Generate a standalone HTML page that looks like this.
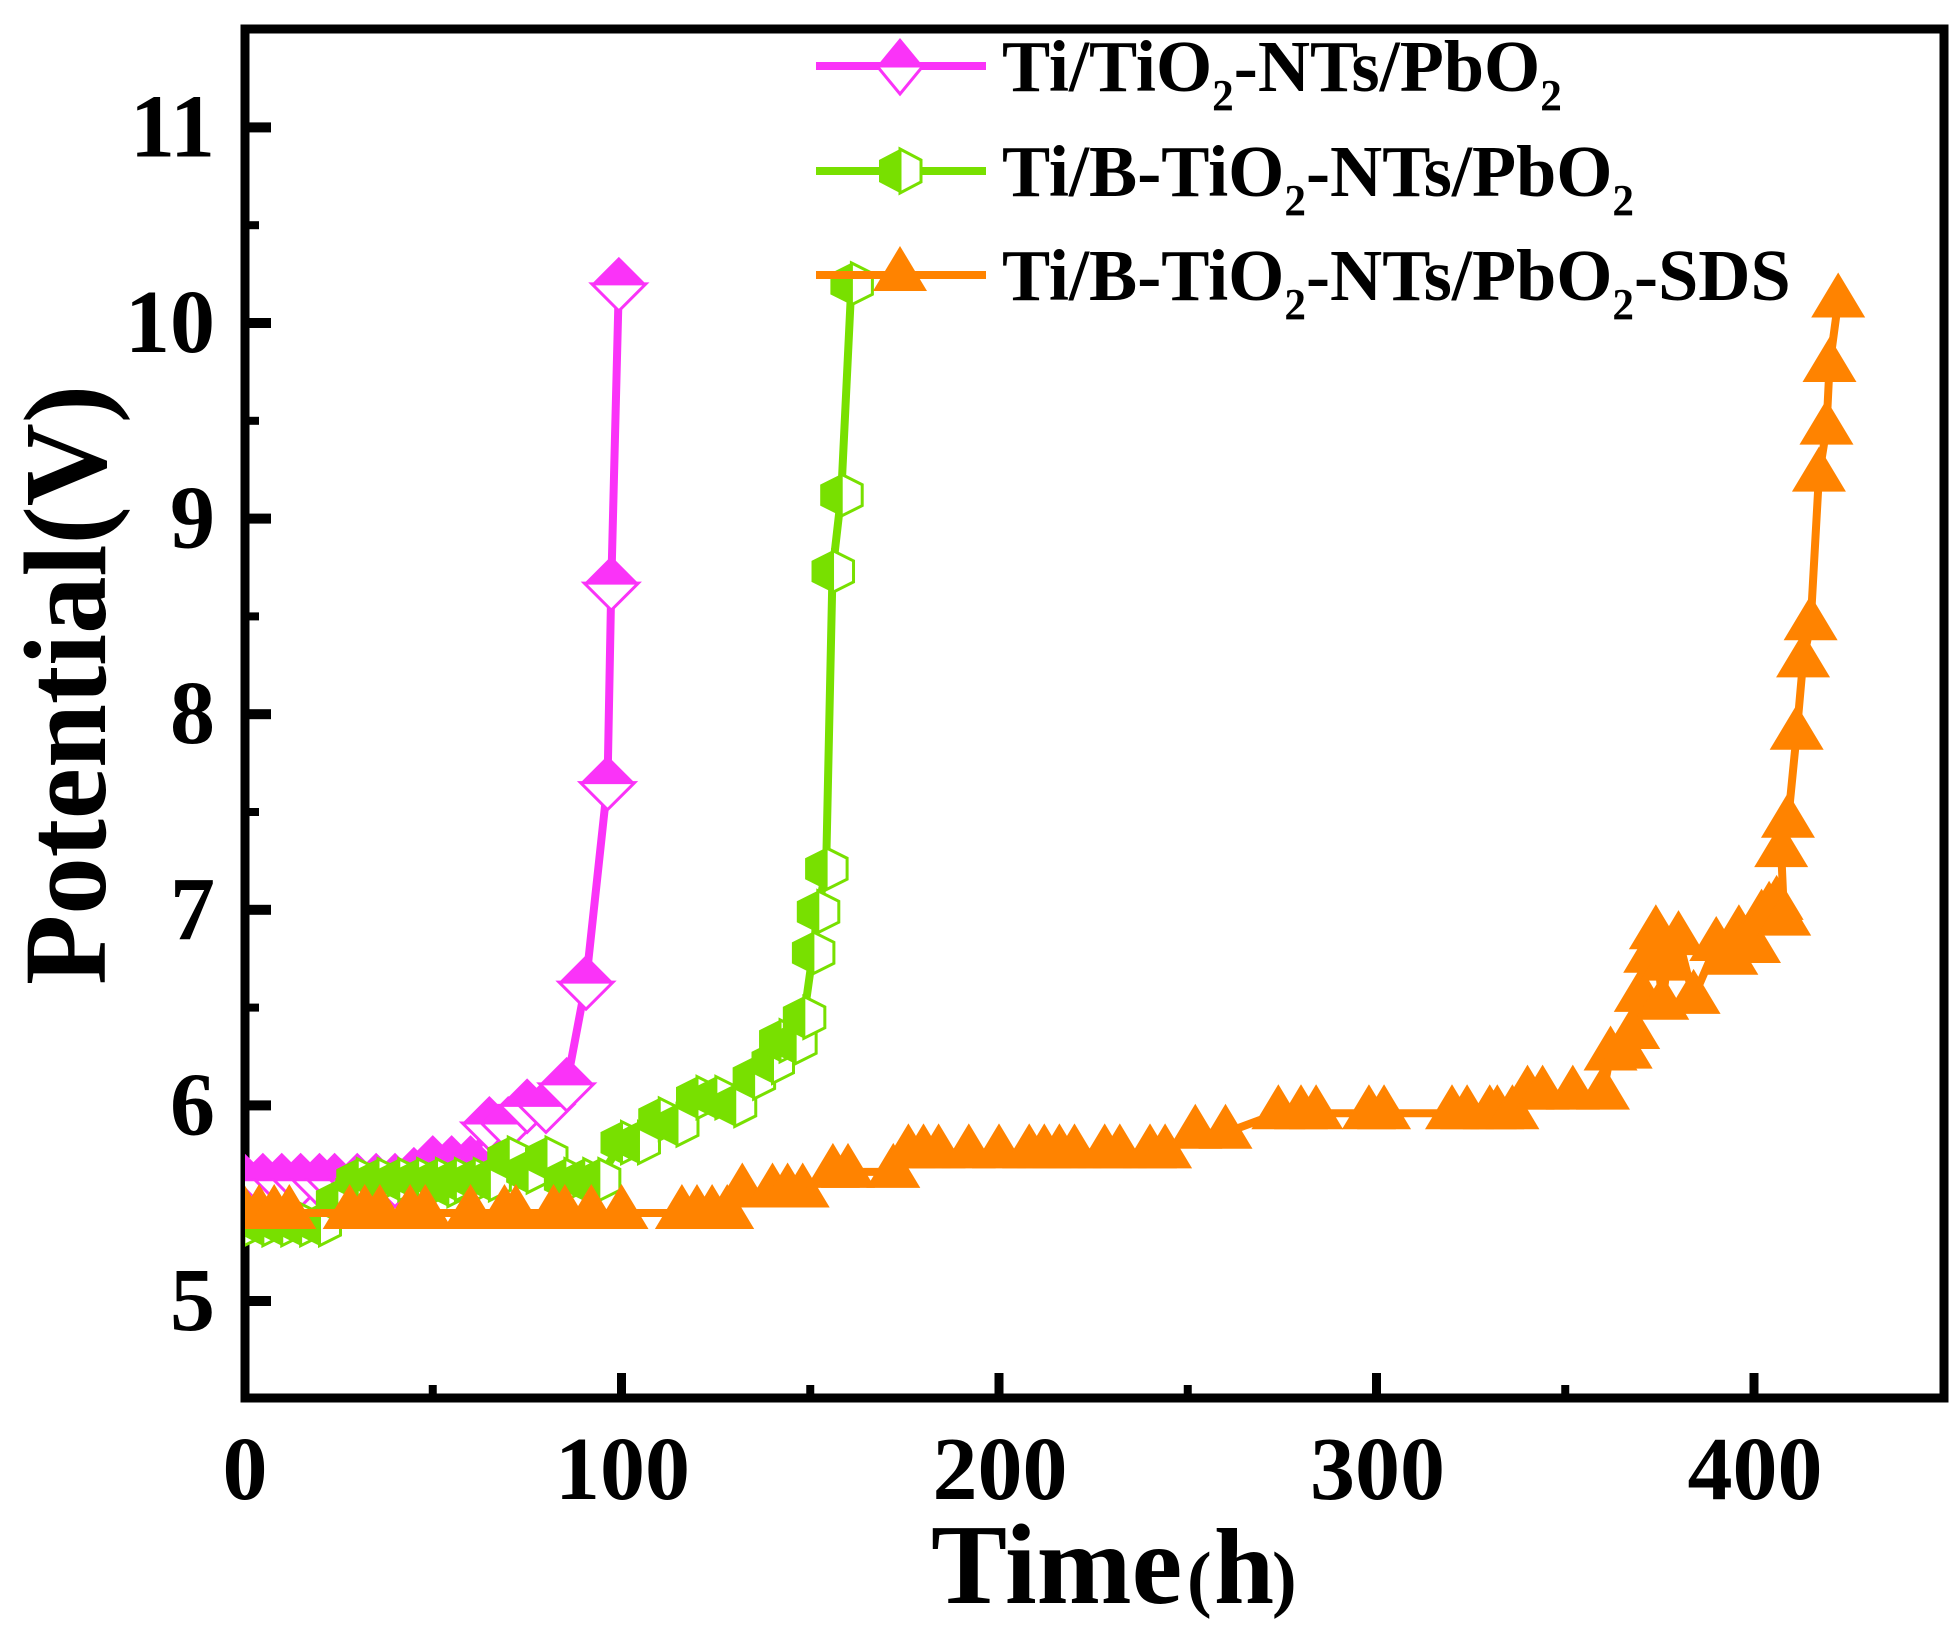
<!DOCTYPE html>
<html lang="en">
<head>
<meta charset="utf-8">
<title>Potential vs Time</title>
<style>
html,body{margin:0;padding:0;background:#fff;}
svg{display:block;}
text{font-family:"Liberation Serif",serif;font-weight:bold;fill:#000;}
</style>
</head>
<body>
<svg id="chart" xmlns="http://www.w3.org/2000/svg" width="1960" height="1641" viewBox="0 0 1960 1641">
  <defs><clipPath id="plot-clip"><rect x="245" y="0" width="1715" height="1641"/></clipPath></defs>
  <rect x="245" y="29" width="1699" height="1369" fill="#fff" stroke="#000" stroke-width="9"/>
  <g id="ticks"></g>
  <g id="tick-labels" font-size="90"></g>
  <g id="series" clip-path="url(#plot-clip)"></g>
  <g id="legend-marks"></g>
  <text transform="translate(1002,91) scale(0.983,1)" font-size="73.5">Ti/TiO<tspan font-size="44" dy="19">2</tspan><tspan dy="-19">-NTs/PbO</tspan><tspan font-size="44" dy="19">2</tspan></text>
  <text transform="translate(1002,196) scale(0.983,1)" font-size="73.5">Ti/B-TiO<tspan font-size="44" dy="19">2</tspan><tspan dy="-19">-NTs/PbO</tspan><tspan font-size="44" dy="19">2</tspan></text>
  <text transform="translate(1002,300) scale(0.983,1)" font-size="73.5">Ti/B-TiO<tspan font-size="44" dy="19">2</tspan><tspan dy="-19">-NTs/PbO</tspan><tspan font-size="44" dy="19">2</tspan><tspan dy="-19">-SDS</tspan></text>
  <text transform="translate(105,985) rotate(-90)" font-size="118" textLength="600" lengthAdjust="spacingAndGlyphs">Potential(V)</text>
  <text y="1603" font-size="114"><tspan x="931">Time</tspan><tspan x="1187" font-size="74">(</tspan><tspan x="1214" font-size="108">h</tspan><tspan x="1272" font-size="74">)</tspan></text>
</svg>
<script>
const xMajorTicks = [0, 100, 200, 300, 400];
const xMinorTicks = [50, 150, 250, 350];
const yMajorTicks = [5, 6, 7, 8, 9, 10, 11];
const yMinorTicks = [5.5, 6.5, 7.5, 8.5, 9.5, 10.5];

const magentaTimes = [0, 5, 10, 15, 20, 24, 30, 35, 40, 45, 50, 55, 60, 65, 70, 75, 80, 85.5, 90.6, 96.3, 97.3, 99.3];
const magentaPotentials = [5.62, 5.62, 5.62, 5.62, 5.62, 5.62, 5.62, 5.62, 5.62, 5.65, 5.71, 5.71, 5.71, 5.91, 5.91, 6.0, 6.0, 6.11, 6.63, 7.65, 8.67, 10.2];

const greenTimes = [0, 5, 10, 15, 20, 24.6, 30, 35.5, 41, 46, 51, 54, 56, 61, 65, 70, 75, 80, 85, 90, 94, 100, 104.5, 110, 114.7, 120, 125, 130, 135, 140, 142, 146, 148.3, 150.7, 152, 154.2, 155.9, 158.2, 160.9];
const greenPotentials = [5.39, 5.39, 5.39, 5.39, 5.39, 5.51, 5.62, 5.62, 5.62, 5.62, 5.62, 5.59, 5.62, 5.62, 5.62, 5.73, 5.66, 5.73, 5.62, 5.62, 5.62, 5.81, 5.81, 5.93, 5.9, 6.04, 6.04, 6.0, 6.14, 6.22, 6.33, 6.32, 6.45, 6.78, 6.99, 7.21, 8.73, 9.12, 10.2];

const orangeTimes = [0, 4, 8, 12, 28, 32, 36, 44, 48, 60, 69, 72, 82, 85, 92, 100, 116, 120, 124, 128, 132, 140, 144, 148, 156, 160, 172, 176, 180, 184, 192, 200, 208, 212, 216, 220, 228, 232, 240, 244, 252, 260, 274, 280, 284, 298, 302, 320, 324, 330, 332, 336, 340, 344, 352, 360, 362, 366, 368, 370, 372.5, 374, 375.7, 377, 380, 384, 390, 394, 396, 400, 402, 404, 406, 408, 407.2, 409, 411.3, 413, 415, 417.2, 419.2, 420, 422.3];
const orangePotentials = [5.45, 5.45, 5.45, 5.45, 5.45, 5.45, 5.45, 5.45, 5.45, 5.45, 5.45, 5.45, 5.45, 5.45, 5.45, 5.45, 5.45, 5.45, 5.45, 5.45, 5.56, 5.56, 5.56, 5.56, 5.66, 5.66, 5.66, 5.76, 5.76, 5.76, 5.76, 5.76, 5.76, 5.76, 5.76, 5.76, 5.76, 5.76, 5.76, 5.76, 5.86, 5.86, 5.96, 5.96, 5.96, 5.96, 5.96, 5.96, 5.96, 5.96, 5.96, 5.96, 6.06, 6.06, 6.06, 6.06, 6.26, 6.27, 6.37, 6.56, 6.76, 6.88, 6.52, 6.72, 6.85, 6.55, 6.82, 6.75, 6.88, 6.81, 6.96, 7.0, 7.03, 6.95, 7.3, 7.45, 7.9, 8.27, 8.46, 9.22, 9.46, 9.78, 10.11];

const MAGENTA = '#FA33F8';
const GREEN = '#78E000';
const ORANGE = '#FF8300';
const NS = 'http://www.w3.org/2000/svg';

function xScale(t) { return 244 + t * 3.775; }
function yScale(v) { return 1301 - (v - 5) * 195.6; }

function shape(tag, attrs, parent) {
  const el = document.createElementNS(NS, tag);
  for (const k in attrs) el.setAttribute(k, attrs[k]);
  parent.appendChild(el);
  return el;
}

const tickGroup = document.getElementById('ticks');
const labelGroup = document.getElementById('tick-labels');

xMajorTicks.forEach(function (t) {
  if (t > 0) {
    const tick = shape('rect', { x: xScale(t) - 4.5, y: 1373, width: 9, height: 22, fill: '#000' }, tickGroup);
    
    
  }
  const label = shape('text', { x: xScale(t) + 1, y: 1499, 'text-anchor': 'middle' }, labelGroup);
  label.textContent = String(t);
  
  
});
xMinorTicks.forEach(function (t) {
  const tick = shape('rect', { x: xScale(t) - 4, y: 1385, width: 8, height: 10, fill: '#000' }, tickGroup);
  
  
});
yMajorTicks.forEach(function (v) {
  const tick = shape('rect', { x: 248, y: yScale(v) - 5, width: 23, height: 10, fill: '#000' }, tickGroup);
  
  
  const label = shape('text', { x: 215, y: yScale(v) + 29, 'text-anchor': 'end' }, labelGroup);
  label.textContent = String(v);
  
  
});
yMinorTicks.forEach(function (v) {
  const tick = shape('rect', { x: 248, y: yScale(v) - 4, width: 11, height: 8, fill: '#000' }, tickGroup);
  
  
});

function drawDiamond(parent, cx, cy, hw, hh, color) {
  const g = shape('g', {}, parent);
  shape('polygon', { points: [cx - hw, cy, cx, cy + hh, cx + hw, cy].join(' '), fill: '#fff', stroke: color, 'stroke-width': 3, 'stroke-linejoin': 'miter' }, g);
  shape('polygon', { points: [cx - hw, cy, cx, cy - hh, cx + hw, cy].join(' '), fill: color }, g);
  return g;
}
function drawHexagon(parent, cx, cy, hw, hh, color) {
  const g = shape('g', {}, parent);
  const q = hh * 0.5;
  shape('polygon', { points: [cx, cy - hh, cx + hw, cy - q, cx + hw, cy + q, cx, cy + hh].join(' '), fill: '#fff', stroke: color, 'stroke-width': 3 }, g);
  shape('polygon', { points: [cx, cy - hh, cx - hw, cy - q, cx - hw, cy + q, cx, cy + hh].join(' '), fill: color }, g);
  return g;
}
function drawTriangle(parent, cx, cy, color) {
  return shape('polygon', { points: [cx - 27, cy + 16, cx, cy - 29, cx + 27, cy + 16].join(' '), fill: color }, parent);
}
function polyPoints(times, values) {
  return times.map(function (t, i) { return xScale(t) + ',' + yScale(values[i]); }).join(' ');
}

const seriesGroup = document.getElementById('series');

const magentaLine = shape('polyline', { points: polyPoints(magentaTimes, magentaPotentials), fill: 'none', stroke: MAGENTA, 'stroke-width': 8, 'stroke-linejoin': 'round' }, seriesGroup);


magentaTimes.forEach(function (t, i) {
  const m = drawDiamond(seriesGroup, xScale(t), yScale(magentaPotentials[i]), 27, 27, MAGENTA);
  
  
});

const greenLine = shape('polyline', { points: polyPoints(greenTimes, greenPotentials), fill: 'none', stroke: GREEN, 'stroke-width': 8, 'stroke-linejoin': 'round' }, seriesGroup);


greenTimes.forEach(function (t, i) {
  const m = drawHexagon(seriesGroup, xScale(t), yScale(greenPotentials[i]), 21, 21, GREEN);
  
  
});

const orangeLine = shape('polyline', { points: polyPoints(orangeTimes, orangePotentials), fill: 'none', stroke: ORANGE, 'stroke-width': 8, 'stroke-linejoin': 'round' }, seriesGroup);


orangeTimes.forEach(function (t, i) {
  const m = drawTriangle(seriesGroup, xScale(t), yScale(orangePotentials[i]), ORANGE);
  
  
});

const legendGroup = document.getElementById('legend-marks');
const legendLine1 = shape('rect', { x: 816, y: 62, width: 170, height: 8, fill: MAGENTA }, legendGroup);


const legendMark1 = drawDiamond(legendGroup, 900, 66, 23, 28, MAGENTA);


const legendLine2 = shape('rect', { x: 816, y: 167, width: 170, height: 8, fill: GREEN }, legendGroup);


const legendMark2 = drawHexagon(legendGroup, 900, 171, 21, 22, GREEN);


const legendLine3 = shape('rect', { x: 816, y: 271, width: 170, height: 8, fill: ORANGE }, legendGroup);


const legendMark3 = drawTriangle(legendGroup, 900, 275, ORANGE);


</script>
</body>
</html>
